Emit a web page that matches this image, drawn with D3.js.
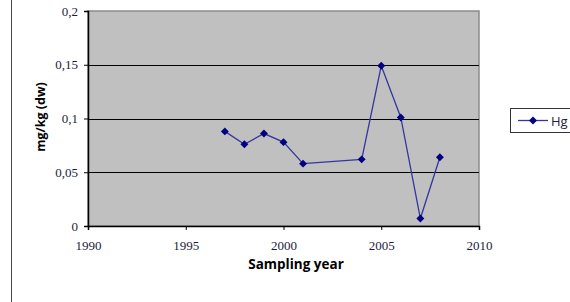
<!DOCTYPE html>
<html lang="en">
<head>
  <meta charset="UTF-8">
  <title>Hg mg/kg (dw) by sampling year</title>
  <script src="https://d3js.org/d3.v7.min.js"></script>
  <style>
    body { margin: 0; background: #fff; }
    svg { display: block; }
  </style>
</head>
<body>
  <svg id="chart" width="570" height="302"></svg>
  <script>
    // Data
    const years = [1997, 1998, 1999, 2000, 2001, 2004, 2005, 2006, 2007, 2008];
    const hg = [0.088, 0.076, 0.086, 0.078, 0.058, 0.062, 0.149, 0.101, 0.007, 0.064];
    const xTicks = [1990, 1995, 2000, 2005, 2010];
    const yTicks = [0, 0.05, 0.1, 0.15, 0.2];
    const seriesName = "Hg";

    const svg = d3.select("#chart");
    const plot = { left: 88, top: 11, right: 479, bottom: 226 };

    const x = d3.scaleLinear().domain([1990, 2010]).range([plot.left, plot.right]);
    const y = d3.scaleLinear().domain([0, 0.2]).range([plot.bottom, plot.top]);
    const fmt = d => String(d).replace(".", ",");

    // outer frame line at left
    svg.append("line")
      .attr("x1", 11.5).attr("x2", 11.5).attr("y1", 0).attr("y2", 302)
      .attr("stroke", "#444").attr("stroke-width", 1);

    // plot background
    svg.append("rect")
      .attr("x", plot.left).attr("y", plot.top)
      .attr("width", plot.right - plot.left).attr("height", plot.bottom - plot.top)
      .attr("fill", "#c0c0c0").attr("stroke", "#8c8c8c").attr("stroke-width", 1.5);

    // gridlines
    svg.append("g").selectAll("line")
      .data(yTicks.filter(t => t > 0 && t < 0.2))
      .join("line")
      .attr("x1", plot.left).attr("x2", plot.right)
      .attr("y1", d => Math.round(y(d)) + 0.5).attr("y2", d => Math.round(y(d)) + 0.5)
      .attr("stroke", "#000").attr("stroke-width", 1);

    // axes
    const yAxis = svg.append("g")
      .attr("transform", `translate(${plot.left},0)`)
      .call(d3.axisLeft(y).tickValues(yTicks).tickFormat(fmt).tickSize(4).tickPadding(6));
    const xAxis = svg.append("g")
      .attr("transform", `translate(0,${plot.bottom})`)
      .call(d3.axisBottom(x).tickValues(xTicks).tickFormat(d3.format("d")).tickSize(4).tickPadding(11));

    [yAxis, xAxis].forEach(a => {
      a.select(".domain").attr("stroke", "#000").attr("stroke-width", 1.5);
      a.selectAll(".tick line").attr("stroke", "#000");
      a.selectAll(".tick text")
        .attr("fill", "#1c1c40")
        .style("font-family", "'Liberation Serif', 'DejaVu Serif', serif")
        .style("font-size", "13px");
    });

    // series
    const pts = years.map((yr, i) => ({ yr, v: hg[i] }));
    const line = d3.line().x(d => x(d.yr)).y(d => y(d.v));
    svg.append("path")
      .datum(pts)
      .attr("fill", "none")
      .attr("stroke", "#3535a0")
      .attr("stroke-width", 1.3)
      .attr("d", line);

    const diamond = d3.symbol().type(d3.symbolDiamond2).size(40);
    svg.append("g").selectAll("path")
      .data(pts)
      .join("path")
      .attr("transform", d => `translate(${x(d.yr)},${y(d.v)})`)
      .attr("d", diamond)
      .attr("fill", "#000080");

    // axis titles
    svg.append("text")
      .attr("transform", `translate(45,117) rotate(-90)`)
      .attr("text-anchor", "middle")
      .style("font-family", "'Open Sans', 'DejaVu Sans', sans-serif")
      .style("font-weight", "bold")
      .style("font-size", "12.5px")
      .text("mg/kg (dw)");

    svg.append("text")
      .attr("x", 296).attr("y", 269)
      .attr("text-anchor", "middle")
      .style("font-family", "'Open Sans', 'DejaVu Sans', sans-serif")
      .style("font-weight", "bold")
      .style("font-size", "13.5px")
      .text("Sampling year");

    // legend
    const lg = svg.append("g").attr("transform", "translate(510,108)");
    lg.append("rect")
      .attr("x", 0.5).attr("y", 0.5).attr("width", 70).attr("height", 24)
      .attr("fill", "#fff").attr("stroke", "#333").attr("stroke-width", 1);
    lg.append("line")
      .attr("x1", 8).attr("x2", 38).attr("y1", 12.5).attr("y2", 12.5)
      .attr("stroke", "#3535a0").attr("stroke-width", 1.3);
    lg.append("path")
      .attr("transform", "translate(23,12.5)")
      .attr("d", diamond)
      .attr("fill", "#000080");
    lg.append("text")
      .attr("x", 41).attr("y", 17.5)
      .attr("fill", "#1c1c40")
      .style("font-family", "'Open Sans', 'DejaVu Sans', sans-serif")
      .style("font-size", "13px")
      .text(seriesName);
  </script>
</body>
</html>
